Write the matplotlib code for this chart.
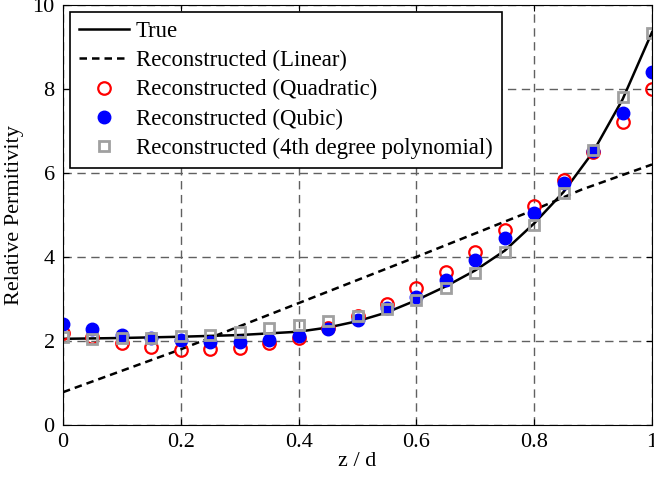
import matplotlib
matplotlib.use('Agg')
import matplotlib.pyplot as plt
import numpy as np

# sample positions z/d
z = [0.0, 0.05, 0.1, 0.15, 0.2, 0.25, 0.3, 0.35, 0.4, 0.45, 0.5,
     0.55, 0.6, 0.65, 0.7, 0.75, 0.8, 0.85, 0.9, 0.95, 1.0]

quadratic = [2.2, 2.1, 1.95, 1.85, 1.78, 1.8, 1.83, 1.95, 2.08, 2.3, 2.6,
             2.88, 3.25, 3.65, 4.12, 4.63, 5.2, 5.82, 6.5, 7.22, 8.0]
cubic = [2.4, 2.28, 2.15, 2.08, 2.02, 1.98, 1.98, 2.02, 2.12, 2.28, 2.5,
         2.78, 3.05, 3.45, 3.92, 4.45, 5.05, 5.75, 6.52, 7.42, 8.4]
quartic = [2.1, 2.05, 2.08, 2.08, 2.12, 2.15, 2.22, 2.3, 2.38, 2.48, 2.6,
           2.75, 2.97, 3.25, 3.62, 4.12, 4.75, 5.52, 6.55, 7.8, 9.32]

# true profile
z_true = [0.0, 0.1, 0.2, 0.3, 0.4, 0.45, 0.5, 0.55, 0.6, 0.65, 0.7,
          0.75, 0.8, 0.85, 0.9, 0.95, 1.0]
eps_true = [2.05, 2.07, 2.1, 2.14, 2.22, 2.32, 2.47, 2.68, 2.97, 3.3, 3.68,
            4.15, 4.8, 5.55, 6.5, 7.75, 9.35]

# linear reconstruction
z_lin = [0.0, 0.2, 0.4, 0.6, 0.8, 0.88, 1.0]
eps_lin = [0.78, 1.8, 2.9, 4.0, 5.12, 5.6, 6.2]

plt.rcParams['font.family'] = ['Liberation Serif', 'DejaVu Serif']
plt.rcParams['font.size'] = 16

fig = plt.figure(figsize=(6.54, 4.84), dpi=100)
ax = fig.add_axes([0.0963, 0.122, 0.9007, 0.868])

ax.plot(z_true, eps_true, '-', color='black', lw=1.8, label='True')
ax.plot(z_lin, eps_lin, '--', color='black', lw=1.8, dashes=(3, 2),
        label='Reconstructed (Linear)')
ax.plot(z, quadratic, 'o', mfc='none', mec='red', mew=1.6, ms=9,
        label='Reconstructed (Quadratic)')
ax.plot(z, cubic, 'o', mfc='blue', mec='blue', ms=9,
        label='Reconstructed (Qubic)')
ax.plot(z, quartic, 's', mfc='none', mec='#a0a0a0', mew=2, ms=7,
        label='Reconstructed (4th degree polynomial)')

ax.set_xlim(0, 1)
ax.set_ylim(0, 10)
ax.set_xticks([0, 0.2, 0.4, 0.6, 0.8, 1])
ax.set_xticklabels(['0', '0.2', '0.4', '0.6', '0.8', '1'])
ax.set_yticks([0, 2, 4, 6, 8, 10])
ax.grid(True, linestyle=(0, (6, 4)), color='#606060', lw=1)
ax.tick_params(direction='in', top=True, right=True, length=4, pad=6)
ax.set_xlabel('z / d', labelpad=0)
ax.set_ylabel('Relative Permitivity', labelpad=6)

leg = ax.legend(loc='upper left', fancybox=False, edgecolor='black',
                framealpha=1, borderaxespad=0.3, handlelength=2.2,
                handletextpad=0.3, labelspacing=0.36, borderpad=0.4,
                prop={'size': 16.4})
leg.get_frame().set_linewidth(1.2)

fig.savefig('out.png', dpi=100)
